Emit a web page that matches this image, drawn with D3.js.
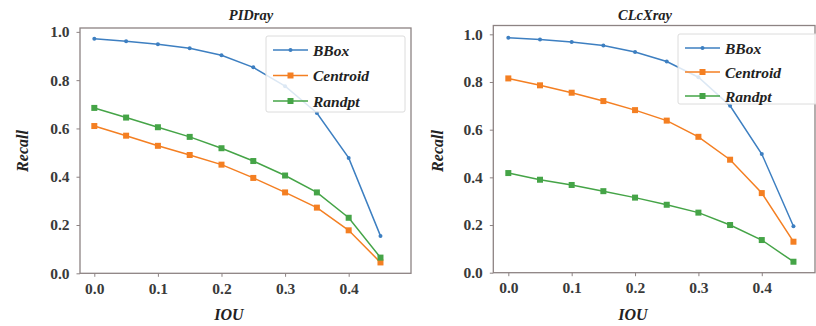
<!DOCTYPE html>
<html>
<head>
<meta charset="utf-8">
<script src="https://cdn.jsdelivr.net/npm/d3@7"></script>
<style>
  body { margin: 0; background: #fff; }
  svg { display: block; }
  text { font-family: "Liberation Serif", "Times New Roman", Tinos, "Nimbus Roman", "FreeSerif", "DejaVu Serif", Times, serif !important; }
  .tick text { font-weight: bold; }
</style>
</head>
<body>
<script>
// IOU thresholds shared by both panels
const iou = [0.0, 0.05, 0.1, 0.15, 0.2, 0.25, 0.3, 0.35, 0.4, 0.45];
const seriesNames = ["BBox", "Centroid", "Randpt"];
const xTicks = [0.0, 0.1, 0.2, 0.3, 0.4];
const yTicks = [0.0, 0.2, 0.4, 0.6, 0.8, 1.0];

// PIDray recall
const pidBBox     = [0.971, 0.961, 0.949, 0.932, 0.903, 0.853, 0.775, 0.664, 0.478, 0.155];
const pidCentroid = [0.61, 0.57, 0.528, 0.49, 0.45, 0.395, 0.335, 0.272, 0.178, 0.045];
const pidRandpt   = [0.685, 0.645, 0.605, 0.565, 0.518, 0.465, 0.405, 0.335, 0.23, 0.065];

// CLcXray recall
const clcBBox     = [0.986, 0.978, 0.968, 0.953, 0.926, 0.886, 0.82, 0.70, 0.498, 0.195];
const clcCentroid = [0.815, 0.786, 0.755, 0.72, 0.682, 0.638, 0.57, 0.474, 0.334, 0.13];
const clcRandpt   = [0.418, 0.39, 0.368, 0.342, 0.315, 0.285, 0.252, 0.2, 0.137, 0.046];

const colors = ["#3d7fc1", "#f47f22", "#45a447"];

const width = 816, height = 326;
const svg = d3.select("body").append("svg").attr("width", width).attr("height", height);

function drawPanel(p) {
  const x = d3.scaleLinear().domain(p.xDomain).range([p.left, p.right]);
  const y = d3.scaleLinear().domain(p.yDomain).range([p.bottom, p.top]);
  const g = svg.append("g");

  // frame
  g.append("rect")
    .attr("x", p.left).attr("y", p.top)
    .attr("width", p.right - p.left).attr("height", p.bottom - p.top)
    .attr("fill", "none").attr("stroke", "#8d8383").attr("stroke-width", 1.3);

  // axes
  const xAxis = g.append("g").attr("transform", `translate(0,${p.bottom})`)
    .call(d3.axisBottom(x).tickValues(xTicks).tickFormat(d3.format(".1f")).tickSize(3.5).tickPadding(6));
  const yAxis = g.append("g").attr("transform", `translate(${p.left},0)`)
    .call(d3.axisLeft(y).tickValues(yTicks).tickFormat(d3.format(".1f")).tickSize(3.5).tickPadding(7));
  [xAxis, yAxis].forEach(a => {
    a.select(".domain").remove();
    a.selectAll(".tick line").attr("stroke", "#8d8383");
    a.selectAll(".tick text").attr("fill", "#3a3a3a").style("font-size", "15.5px");
  });

  // lines
  const line = d3.line().x((d, i) => x(iou[i])).y(d => y(d));
  p.series.forEach((vals, k) => {
    g.append("path").datum(vals)
      .attr("d", line).attr("fill", "none")
      .attr("stroke", colors[k]).attr("stroke-width", 1.5);
    if (k === 0) {
      g.selectAll(null).data(vals).enter().append("circle")
        .attr("cx", (d, i) => x(iou[i])).attr("cy", d => y(d))
        .attr("r", 2).attr("fill", colors[k]);
    } else {
      g.selectAll(null).data(vals).enter().append("rect")
        .attr("x", (d, i) => x(iou[i]) - 3).attr("y", d => y(d) - 3)
        .attr("width", 6).attr("height", 6).attr("fill", colors[k]);
    }
  });

  // legend
  const lg = g.append("g");
  lg.append("rect")
    .attr("x", p.legX).attr("y", p.legY).attr("width", p.legW).attr("height", p.legH)
    .attr("rx", 2).attr("fill", "#fff").attr("fill-opacity", 0.82)
    .attr("stroke", "#dcdcdc").attr("stroke-width", 1);
  seriesNames.forEach((name, k) => {
    const ly = p.legY + 14 + k * p.legStep;
    const x0 = p.legX + 7, x1 = p.legX + 42;
    lg.append("line").attr("x1", x0).attr("x2", x1).attr("y1", ly).attr("y2", ly)
      .attr("stroke", colors[k]).attr("stroke-width", 1.5);
    if (k === 0) {
      lg.append("circle").attr("cx", (x0 + x1) / 2).attr("cy", ly).attr("r", 2).attr("fill", colors[k]);
    } else {
      lg.append("rect").attr("x", (x0 + x1) / 2 - 3).attr("y", ly - 3).attr("width", 6).attr("height", 6).attr("fill", colors[k]);
    }
    lg.append("text").attr("x", x1 + 5).attr("y", ly + 5.5)
      .style("font-size", "15.5px").style("font-weight", "bold")
      .style("font-style", "italic").attr("fill", "#222").text(name);
  });

  // labels
  g.append("text").attr("x", p.titleX).attr("y", 20).attr("text-anchor", "middle")
    .style("font-size", "14.5px").style("font-weight", "bold")
    .style("font-style", "italic").attr("fill", "#222").text(p.title);
  g.append("text").attr("x", p.xLabelX).attr("y", 320).attr("text-anchor", "middle")
    .style("font-size", "16px").style("font-weight", "bold")
    .style("font-style", "italic").attr("fill", "#222").text("IOU");
  g.append("text").attr("transform", `translate(${p.yLabelX},151) rotate(-90)`)
    .attr("text-anchor", "middle")
    .style("font-size", "16px").style("font-weight", "bold")
    .style("font-style", "italic").attr("fill", "#222").text("Recall");
}

drawPanel({
  title: "PIDray", titleX: 251, xLabelX: 229, yLabelX: 28,
  left: 80, right: 411, top: 28, bottom: 273.3,
  xDomain: [-0.0225, 0.498], yDomain: [0, 1.016],
  legX: 266, legY: 36, legW: 139, legH: 76, legStep: 25.5,
  series: [pidBBox, pidCentroid, pidRandpt]
});

drawPanel({
  title: "CLcXray", titleX: 645, xLabelX: 633, yLabelX: 443,
  left: 493.3, right: 815, top: 25.5, bottom: 272.7,
  xDomain: [-0.0237, 0.484], yDomain: [0, 1.037],
  legX: 678, legY: 34, legW: 140, legH: 70, legStep: 24,
  series: [clcBBox, clcCentroid, clcRandpt]
});
</script>
</body>
</html>
